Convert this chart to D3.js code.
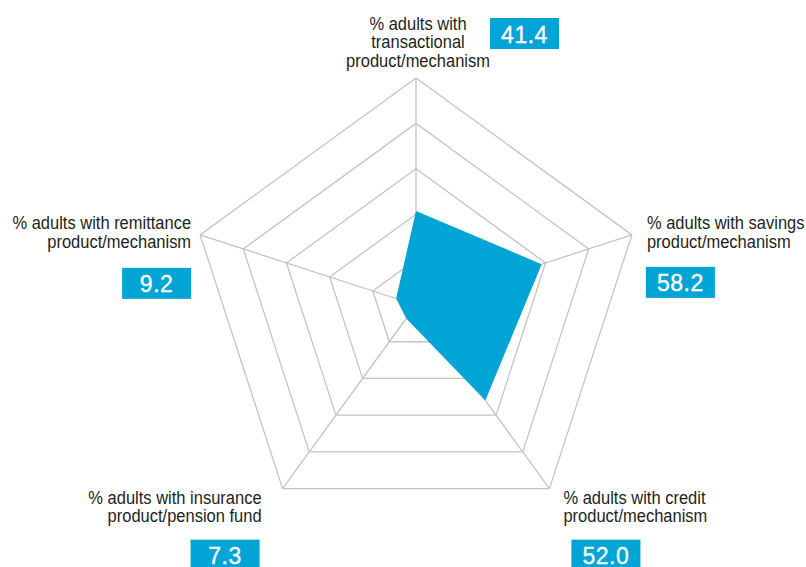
<!DOCTYPE html>
<html>
<head>
<meta charset="utf-8">
<script src="https://cdn.jsdelivr.net/npm/d3@7"></script>
<style>
  html, body { margin: 0; padding: 0; background: #ffffff; }
  svg { display: block; }
  .lbl { font-family: "Liberation Sans", Arial, sans-serif; font-size: 18.5px; fill: #231f20; }
  .val { font-family: "Liberation Sans", Arial, sans-serif; font-size: 23px; fill: #ffffff; stroke: #ffffff; stroke-width: 0.35px; letter-spacing: 0.5px; }
</style>
</head>
<body>
<svg id="chart" width="806" height="567"></svg>
<script>
// ---- data ----
const categories = [
  ["% adults with", "transactional", "product/mechanism"],
  ["% adults with savings", "product/mechanism"],
  ["% adults with credit", "product/mechanism"],
  ["% adults with insurance", "product/pension fund"],
  ["% adults with remittance", "product/mechanism"]
];
const values = [41.4, 58.2, 52.0, 7.3, 9.2];
const valueLabels = ["41.4", "58.2", "52.0", "7.3", "9.2"];
const levels = [20, 40, 60, 80, 100];

// ---- layout ----
const W = 806, H = 567;
const cx = 416, cy = 305, R = 227;
const blue = "#00a4d5";
const gridColor = "#c4c4c4";
const condense = 16.5 / 18.5;

const svg = d3.select("#chart");
const r = d3.scaleLinear().domain([0, 100]).range([0, R]);
const angle = d3.scaleLinear().domain([0, categories.length]).range([0, 2 * Math.PI]);

function pt(i, v) {
  const a = angle(i);
  return [cx + r(v) * Math.sin(a), cy - r(v) * Math.cos(a)];
}

const line = d3.line().curve(d3.curveLinearClosed);

// grid rings
svg.append("g").selectAll("path")
  .data(levels)
  .join("path")
  .attr("d", lv => line(categories.map((c, i) => pt(i, lv))))
  .attr("fill", "none")
  .attr("stroke", gridColor)
  .attr("stroke-width", 1.3);

// spokes
svg.append("g").selectAll("line")
  .data(categories)
  .join("line")
  .attr("x1", cx).attr("y1", cy)
  .attr("x2", (c, i) => pt(i, d3.max(levels))[0])
  .attr("y2", (c, i) => pt(i, d3.max(levels))[1])
  .attr("stroke", gridColor)
  .attr("stroke-width", 1.3);

// data polygon
svg.append("path")
  .attr("d", line(values.map((v, i) => pt(i, v))))
  .attr("fill", blue);

// label layout relative to each outer vertex
const lineH = 18.5;
const layout = [
  { anchor: "middle", dx: 2,   dy: -11 - 2 * lineH, bx: 74,  by: -60 },
  { anchor: "start",  dx: 15,  dy: -5.5,            bx: 14,  by: 32 },
  { anchor: "start",  dx: 14,  dy: 15,              bx: 22,  by: 51 },
  { anchor: "end",    dx: -21, dy: 15,              bx: -92, by: 51 },
  { anchor: "end",    dx: -9,  dy: -5.5,            bx: -78, by: 33 }
];
const boxW = 69, boxH = 31;

const lg = svg.append("g");
categories.forEach((lines, i) => {
  const [vx, vy] = pt(i, d3.max(levels));
  const L = layout[i];
  const ax = vx + L.dx;
  const t = lg.append("text")
    .attr("class", "lbl")
    .attr("text-anchor", L.anchor)
    .attr("transform", `translate(${ax},0) scale(${condense},1)`);
  lines.forEach((s, k) => {
    t.append("tspan")
      .attr("x", 0)
      .attr("y", vy + L.dy + k * lineH)
      .text(s);
  });
  const bx = vx + L.bx, by = vy + L.by;
  lg.append("rect")
    .attr("x", bx).attr("y", by)
    .attr("width", boxW).attr("height", boxH)
    .attr("fill", blue);
  lg.append("text")
    .attr("class", "val")
    .attr("x", bx + boxW / 2)
    .attr("y", by + boxH / 2 + 9)
    .attr("text-anchor", "middle")
    .text(valueLabels[i]);
});
</script>
</body>
</html>
